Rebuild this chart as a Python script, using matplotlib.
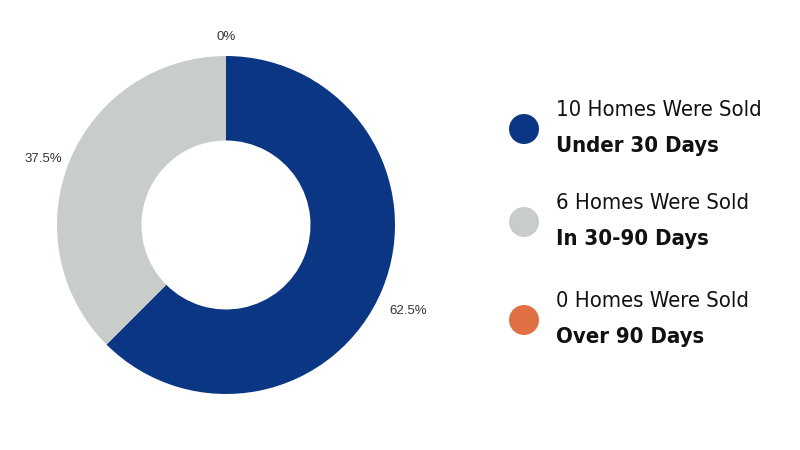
import matplotlib
matplotlib.use("Agg")
import matplotlib.pyplot as plt

counts = [10, 6, 0]
colors = ["#0b3683", "#c9cdca", "#e07043"]
line1 = ["10 Homes Were Sold", "6 Homes Were Sold", "0 Homes Were Sold"]
line2 = ["Under 30 Days", "In 30-90 Days", "Over 90 Days"]

W, H = 800, 450
fig = plt.figure(figsize=(8, 4.5), dpi=100)
fig.patch.set_facecolor("white")

cx, cy, r = 226, 225, 169
ax = fig.add_axes([(cx - r) / W, (H - cy - r) / H, 2 * r / W, 2 * r / H])
wedges, texts, autotexts = ax.pie(
    counts, colors=colors, startangle=90, counterclock=False,
    wedgeprops=dict(width=0.5, edgecolor="none"),
    autopct=lambda p: f"{p:.1f}%".replace(".0%", "%"),
    pctdistance=1.17,
    textprops=dict(fontsize=9.5, color="#333333", family="Liberation Sans"),
)
for t in autotexts:
    x, y = t.get_position()
    t.set_position((x, y - 0.06))
ax.set_xlim(-1, 1)
ax.set_ylim(-1, 1)
ax.set_aspect("equal")
ax.axis("off")

lax = fig.add_axes([0, 0, 1, 1])
lax.set_xlim(0, W)
lax.set_ylim(H, 0)
lax.axis("off")
ys = [129, 222, 320]
for i in range(len(counts)):
    lax.scatter([524], [ys[i]], s=(30 * 0.72) ** 2, color=colors[i], edgecolor="none")
    lax.text(556, ys[i] - 19, line1[i], fontsize=15.8, family="DejaVu Sans",
             fontstretch="condensed", va="center", ha="left", color="#111111")
    lax.text(556, ys[i] + 17, line2[i], fontsize=15.8, family="DejaVu Sans",
             fontstretch="condensed", fontweight="bold", va="center", ha="left",
             color="#111111")

fig.savefig("out.png", dpi=100)
